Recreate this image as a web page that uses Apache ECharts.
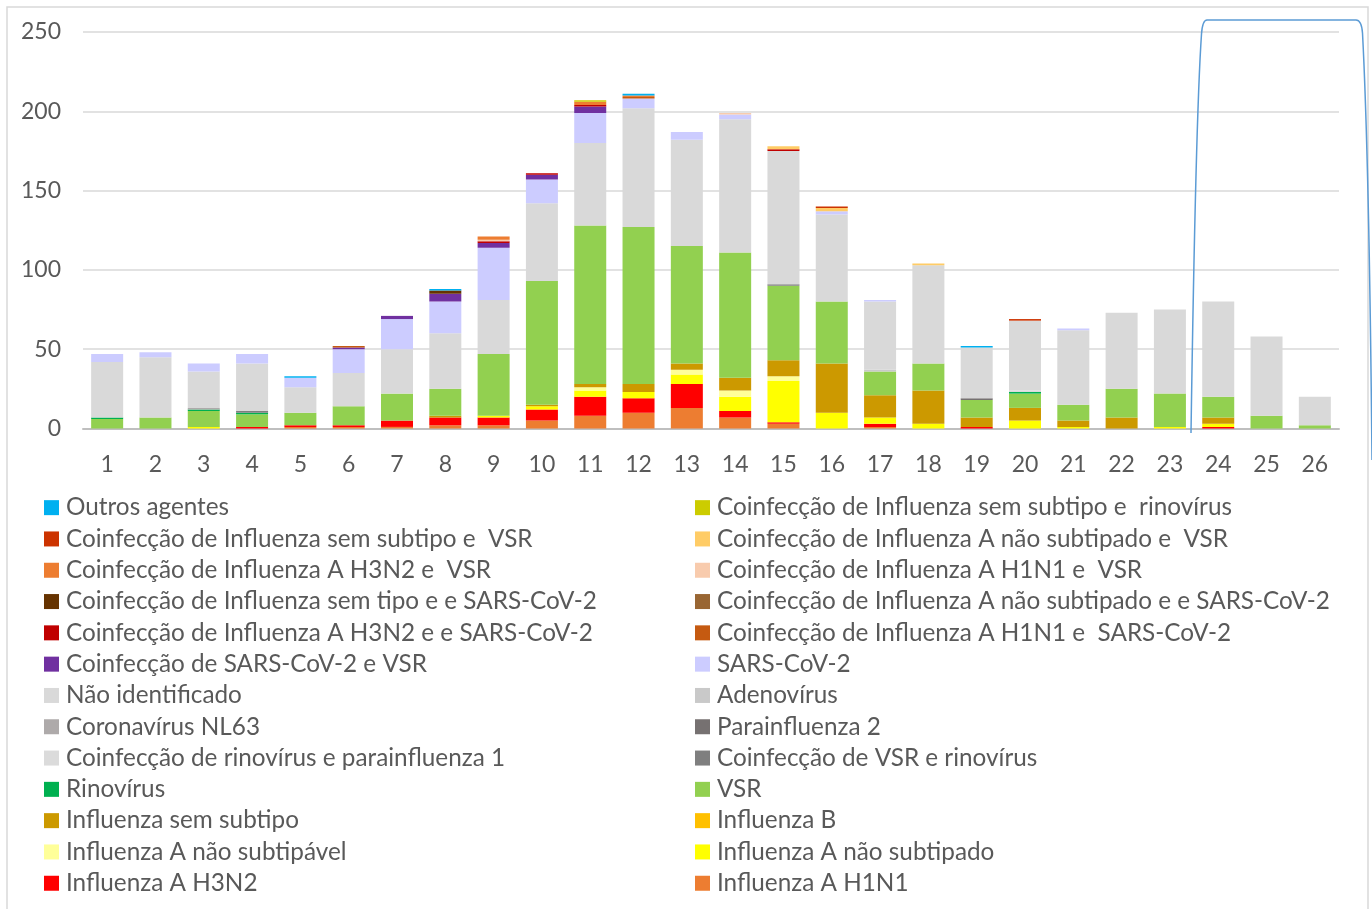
<!DOCTYPE html>
<html>
<head>
<meta charset="utf-8">
<script src="https://cdn.jsdelivr.net/npm/echarts@6/dist/echarts.min.js"></script>
<style>html,body{margin:0;padding:0;background:#fff;}#c{width:1372px;height:909px;}</style>
</head>
<body>
<div id="c"></div>
<script>
var weeks = ['1','2','3','4','5','6','7','8','9','10','11','12','13','14','15','16','17','18','19','20','21','22','23','24','25','26'];
var yTicks = [0, 50, 100, 150, 200, 250];

var h1n1        = [0,0,0,0,1,1,1,2,2,5,8,10,13,7,3,0,1,0,0,0,0,0,0,0,0,0];
var h3n2        = [0,0,0,1,1,1,4,5,5,7,12,9,15,4,1,0,2,0,1,0,0,0,0,1,0,0];
var aNaoSubtipado = [0,0,1,0,0,0,0,0,1,2,4,4,6,9,26,10,4,3,0,5,1,0,1,2,0,0];
var aNaoSubtipavel = [0,0,0,0,0,0,0,0,0,0,2,0,3,4,3,0,0,0,0,0,0,0,0,0,0,0];
var influenzaB  = [0,0,0,0,0,0,0,0,0,0,0,0,0,0,0,0,0,0,0,0,0,0,0,0,0,0];
var semSubtipo  = [0,0,0,0,0,0,0,1,0,1,2,5,4,8,10,31,14,21,6,8,4,7,0,4,0,0];
var vsr         = [6,7,10,8,8,12,17,17,39,78,100,99,74,79,47,39,15,17,11,9,10,18,21,13,8,2];
var rinovirus   = [1,0,1,1,0,0,0,0,0,0,0,0,0,0,0,0,0,0,0,1,0,0,0,0,0,0];
var coVsrRino   = [0,0,0,1,0,0,0,0,0,0,0,0,0,0,1,0,0,0,0,0,0,0,0,0,0,0];
var coRinoPara1 = [0,0,0,0,0,0,0,0,0,0,0,0,0,0,0,0,0,0,0,1,0,0,0,0,0,0];
var parainf2    = [0,0,0,0,0,0,0,0,0,0,0,0,0,0,0,0,0,0,1,0,0,0,0,0,0,0];
var nl63        = [0,0,1,0,0,0,0,0,0,0,0,0,0,0,0,0,0,0,0,0,0,0,0,0,0,0];
var adenovirus  = [0,0,0,0,0,0,0,0,0,0,0,0,0,0,0,0,1,0,0,0,0,0,0,0,0,0];
var naoIdent    = [35,38,23,30,16,21,28,35,34,49,52,75,67,84,84,55,43,62,32,44,47,48,53,60,50,18];
var sars        = [5,3,5,6,6,15,19,20,33,15,19,6,5,3,0,2,1,0,0,0,1,0,0,0,0,0];
var coSarsVsr   = [0,0,0,0,0,1,2,5,3,3,4,0,0,0,0,0,0,0,0,0,0,0,0,0,0,0];
var coH1n1Sars  = [0,0,0,0,0,1,0,0,0,0,0,1,0,0,0,0,0,0,0,0,0,0,0,0,0,0];
var coH3n2Sars  = [0,0,0,0,0,0,0,0,1,1,1,0,0,0,1,0,0,0,0,0,0,0,0,0,0,0];
var coANaoSubSars = [0,0,0,0,0,0,0,0,0,0,0,0,0,0,0,0,0,0,0,0,0,0,0,0,0,0];
var coSemTipoSars = [0,0,0,0,0,0,0,2,0,0,0,0,0,0,0,0,0,0,0,0,0,0,0,0,0,0];
var coH1n1Vsr   = [0,0,0,0,0,0,0,0,1,0,0,0,0,1,0,0,0,0,0,0,0,0,0,0,0,0];
var coH3n2Vsr   = [0,0,0,0,0,0,0,0,2,0,2,1,0,0,0,0,0,0,0,0,0,0,0,0,0,0];
var coANaoSubVsr = [0,0,0,0,0,0,0,0,0,0,0,0,0,0,2,2,0,1,0,0,0,0,0,0,0,0];
var coSemSubVsr = [0,0,0,0,0,0,0,0,0,0,0,0,0,0,0,1,0,0,0,1,0,0,0,0,0,0];
var coSemSubRino = [0,0,0,0,0,0,0,0,0,0,1,0,0,0,0,0,0,0,0,0,0,0,0,0,0,0];
var outros      = [0,0,0,0,1,0,0,1,0,0,0,1,0,0,0,0,0,0,1,0,0,0,0,0,0,0];

// bottom-to-top stacking order
var seriesDefs = [
  ['Influenza A H1N1', h1n1, '#ED7D31'],
  ['Influenza A H3N2', h3n2, '#FF0000'],
  ['Influenza A não subtipado', aNaoSubtipado, '#FFFF00'],
  ['Influenza A não subtipável', aNaoSubtipavel, '#FFFF99'],
  ['Influenza B', influenzaB, '#FFC000'],
  ['Influenza sem subtipo', semSubtipo, '#CC9900'],
  ['VSR', vsr, '#92D050'],
  ['Rinovírus', rinovirus, '#00B050'],
  ['Coinfecção de VSR e rinovírus', coVsrRino, '#7F7F7F'],
  ['Coinfecção de rinovírus e parainfluenza 1', coRinoPara1, '#DBDBDB'],
  ['Parainfluenza 2', parainf2, '#767171'],
  ['Coronavírus NL63', nl63, '#AEAAAA'],
  ['Adenovírus', adenovirus, '#C9C9C9'],
  ['Não identificado', naoIdent, '#D9D9D9'],
  ['SARS-CoV-2', sars, '#CCCCFF'],
  ['Coinfecção de SARS-CoV-2 e VSR', coSarsVsr, '#7030A0'],
  ['Coinfecção de Influenza A H1N1 e  SARS-CoV-2', coH1n1Sars, '#C55A11'],
  ['Coinfecção de Influenza A H3N2 e e SARS-CoV-2', coH3n2Sars, '#C00000'],
  ['Coinfecção de Influenza A não subtipado e e SARS-CoV-2', coANaoSubSars, '#996633'],
  ['Coinfecção de Influenza sem tipo e e SARS-CoV-2', coSemTipoSars, '#663300'],
  ['Coinfecção de Influenza A H1N1 e  VSR', coH1n1Vsr, '#F8CBAD'],
  ['Coinfecção de Influenza A H3N2 e  VSR', coH3n2Vsr, '#ED7D31'],
  ['Coinfecção de Influenza A não subtipado e  VSR', coANaoSubVsr, '#FFCC66'],
  ['Coinfecção de Influenza sem subtipo e  VSR', coSemSubVsr, '#CC3300'],
  ['Coinfecção de Influenza sem subtipo e  rinovírus', coSemSubRino, '#CCCC00'],
  ['Outros agentes', outros, '#00B0F0']
];

var names = seriesDefs.map(function(d){ return d[0]; });
var reversed = names.slice().reverse();
var leftCol = reversed.filter(function(n, i){ return i % 2 === 0; });
var rightCol = reversed.filter(function(n, i){ return i % 2 === 1; });

var FONT = 'Lato, "Open Sans", sans-serif';
var legendText = { fontFamily: FONT, fontSize: 24.3, color: '#595959', lineHeight: 31.3, padding: [0, 0, 0, 2] };
var blue = { fill: 'none', stroke: '#5B9BD5', lineWidth: 1.5 };

var chart = echarts.init(document.getElementById('c'));
chart.setOption({
  animation: false,
  backgroundColor: '#ffffff',
  grid: { left: 83, right: 33, top: 32, bottom: 480.5, containLabel: false },
  xAxis: {
    type: 'category',
    data: weeks,
    axisTick: { show: false },
    axisLine: { lineStyle: { color: '#BFBFBF', width: 2 } },
    axisLabel: { color: '#595959', fontSize: 23, fontFamily: FONT, margin: 25 }
  },
  yAxis: {
    type: 'value',
    min: yTicks[0],
    max: yTicks[yTicks.length - 1],
    interval: yTicks[1] - yTicks[0],
    axisLine: { show: false },
    axisTick: { show: false },
    splitLine: { lineStyle: { color: '#D9D9D9', width: 1.5 } },
    axisLabel: { color: '#595959', fontSize: 23, fontFamily: FONT, margin: 22 }
  },
  legend: [
    { data: leftCol, orient: 'vertical', left: 44, top: 492, padding: 0, itemWidth: 15, itemHeight: 15, itemGap: 0,
      icon: 'rect', selectedMode: false, textStyle: legendText },
    { data: rightCol, orient: 'vertical', left: 695, top: 492, padding: 0, itemWidth: 15, itemHeight: 15, itemGap: 0,
      icon: 'rect', selectedMode: false, textStyle: legendText }
  ],
  series: seriesDefs.map(function(d){
    return {
      name: d[0], type: 'bar', stack: 'total', data: d[1], barWidth: 32,
      itemStyle: { color: d[2] }
    };
  }),
  graphic: [
    { type: 'rect', shape: { x: 7, y: 7, width: 1361, height: 912 }, style: { fill: 'none', stroke: '#D9D9D9', lineWidth: 1.5 }, silent: true },
    { type: 'bezierCurve', shape: { x1: 1191, y1: 433, cpx1: 1193, cpy1: 300, cpx2: 1197, cpy2: 100, x2: 1201.5, y2: 34 }, style: blue, silent: true, z: 100 },
    { type: 'bezierCurve', shape: { x1: 1201.5, y1: 34, cpx1: 1202.5, cpy1: 20, x2: 1207, y2: 20 }, style: blue, silent: true, z: 100 },
    { type: 'line', shape: { x1: 1207, y1: 20, x2: 1356, y2: 20 }, style: blue, silent: true, z: 100 },
    { type: 'bezierCurve', shape: { x1: 1356, y1: 20, cpx1: 1361.5, cpy1: 20, x2: 1362.5, y2: 33 }, style: blue, silent: true, z: 100 },
    { type: 'bezierCurve', shape: { x1: 1362.5, y1: 33, cpx1: 1366, cpy1: 100, cpx2: 1370, cpy2: 250, x2: 1372, y2: 460 }, style: blue, silent: true, z: 100 }
  ]
});
</script>
</body>
</html>
